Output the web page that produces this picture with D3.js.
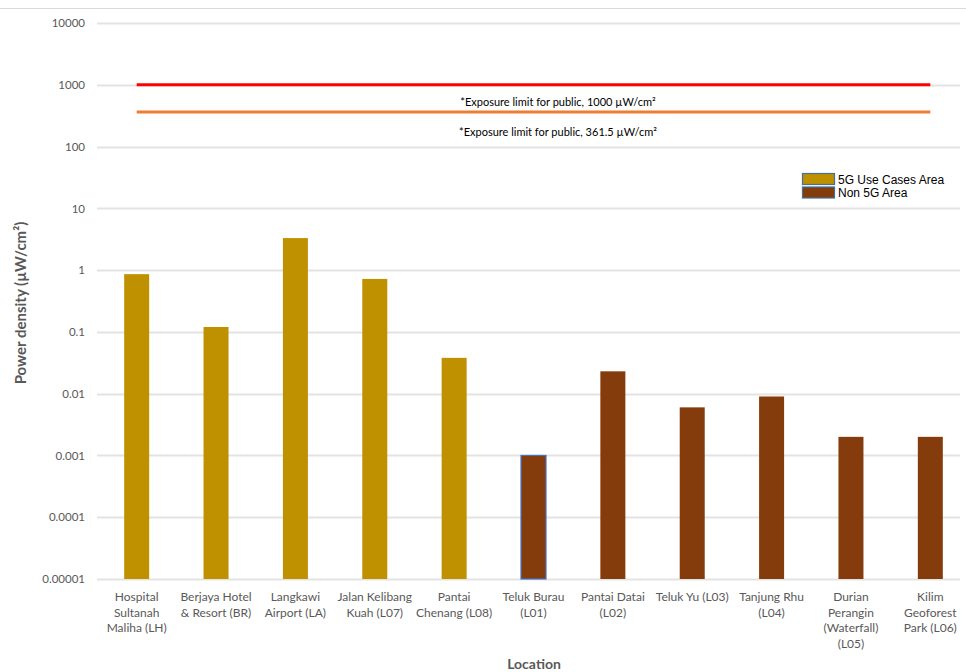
<!DOCTYPE html>
<html>
<head>
<meta charset="utf-8">
<script src="https://cdn.jsdelivr.net/npm/d3@7"></script>
<style>
  body { margin: 0; background: #fff; }
  text { font-family: Lato, "Open Sans", sans-serif; }
</style>
</head>
<body>
<script>
// chart data
const locations = [
    ["Hospital", "Sultanah", "Maliha (LH)"],
    ["Berjaya Hotel", "& Resort (BR)"],
    ["Langkawi", "Airport (LA)"],
    ["Jalan Kelibang", "Kuah (L07)"],
    ["Pantai", "Chenang (L08)"],
    ["Teluk Burau", "(L01)"],
    ["Pantai Datai", "(L02)"],
    ["Teluk Yu (L03)"],
    ["Tanjung Rhu", "(L04)"],
    ["Durian", "Perangin", "(Waterfall)", "(L05)"],
    ["Kilim", "Geoforest", "Park (L06)"]
];
const density = [0.86, 0.12, 3.3, 0.72, 0.038, 0.001, 0.023, 0.006, 0.009, 0.002, 0.002];
const areaType = ["5G", "5G", "5G", "5G", "5G", "non", "non", "non", "non", "non", "non"];
const yTicks = [0.00001, 0.0001, 0.001, 0.01, 0.1, 1, 10, 100, 1000, 10000];
const yTickLabels = ["0.00001", "0.0001", "0.001", "0.01", "0.1", "1", "10", "100", "1000", "10000"];
const limits = [1000, 361.5];
const limitLabels = ["*Exposure limit for public, 1000 \u00b5W/cm\u00b2", "*Exposure limit for public, 361.5 \u00b5W/cm\u00b2"];
const legendLabels = ["5G Use Cases Area", "Non 5G Area"];

const canvWidth = 966, canvHeight = 672;
const svg = d3.select("body").append("svg")
    .attr("width", canvWidth)
    .attr("height", canvHeight);

const margin = {top: 23, right: -4, bottom: 93, left: 97};
const width = canvWidth - margin.left - margin.right;
const height = canvHeight - margin.top - margin.bottom;

const colorScale = d3.scaleOrdinal()
    .domain(["5G", "non"])
    .range(["#BF9000", "#843C0C"]);

// top border line
svg.append("line")
    .attr("x1", 0).attr("x2", canvWidth)
    .attr("y1", 8.5).attr("y2", 8.5)
    .attr("stroke", "#d9d9d9");

const g = svg.append("g")
    .attr("transform", "translate(" + margin.left + "," + margin.top + ")");

const xScale = d3.scaleBand()
    .domain(d3.range(locations.length))
    .range([0, width])
    .paddingInner(0.685)
    .paddingOuter(0.3425);

const yScale = d3.scaleLog()
    .domain([0.00001, 10000])
    .range([height, 0]);

// gridlines
g.append("g")
    .selectAll("line")
    .data(yTicks)
    .join("line")
    .attr("x1", 0)
    .attr("x2", 863)
    .attr("y1", d => Math.round(yScale(d)) + 0.5)
    .attr("y2", d => Math.round(yScale(d)) + 0.5)
    .attr("stroke", "#e3e3e3")
    .attr("stroke-width", 2);

// y axis labels
const yAxis = d3.axisLeft(yScale)
    .tickValues(yTicks)
    .tickFormat((d, i) => yTickLabels[i])
    .tickSize(0)
    .tickPadding(12);
const yAxisG = g.append("g").call(yAxis);
yAxisG.select(".domain").remove();
yAxisG.selectAll("text")
    .attr("fill", "#595959")
    .attr("font-size", "11.5px")
    .style("font-family", "Lato, sans-serif");

// bars
g.selectAll("rect.bar")
    .data(density)
    .join("rect")
    .attr("class", "bar")
    .attr("x", (d, i) => xScale(i))
    .attr("y", d => yScale(d))
    .attr("width", xScale.bandwidth())
    .attr("height", d => height - yScale(d))
    .attr("fill", (d, i) => colorScale(areaType[i]))
    .attr("stroke", (d, i) => i === 5 ? "#4472C4" : "none")
    .attr("stroke-width", 1.2);

// x axis labels
const xLabels = g.append("g")
    .selectAll("text")
    .data(locations)
    .join("text")
    .attr("x", (d, i) => xScale(i) + xScale.bandwidth() / 2)
    .attr("y", height + 22)
    .attr("text-anchor", "middle")
    .attr("fill", "#595959")
    .attr("font-size", "12px");
xLabels.each(function (d) {
    const t = d3.select(this);
    d.forEach((line, k) => {
        t.append("tspan")
            .attr("x", t.attr("x"))
            .attr("dy", k === 0 ? 0 : 15.5)
            .text(line);
    });
});

// exposure limit lines
const xStart = xScale(0) + xScale.bandwidth() / 2;
const xEnd = xScale(locations.length - 1) + xScale.bandwidth() / 2;
const limitColors = ["#FF0000", "#ED7D31"];
g.selectAll("line.limit")
    .data(limits)
    .join("line")
    .attr("class", "limit")
    .attr("x1", xStart)
    .attr("x2", xEnd)
    .attr("y1", d => yScale(d))
    .attr("y2", d => yScale(d))
    .attr("stroke", (d, i) => limitColors[i])
    .attr("stroke-width", 3);

const labelOffsets = [21, 24];
g.selectAll("text.limit")
    .data(limits)
    .join("text")
    .attr("class", "limit")
    .attr("x", 461)
    .attr("y", (d, i) => yScale(d) + labelOffsets[i])
    .attr("text-anchor", "middle")
    .attr("font-size", "11px")
    .attr("fill", "#000")
    .text((d, i) => limitLabels[i]);

// legend
const legend = svg.append("g")
    .attr("transform", "translate(802,173)");
legendLabels.forEach((lab, i) => {
    legend.append("rect")
        .attr("x", 0.5)
        .attr("y", i * 13.5 + 0.5)
        .attr("width", 32)
        .attr("height", 11)
        .attr("fill", colorScale.range()[i])
        .attr("stroke", "#41719C")
        .attr("stroke-width", 1.2);
    legend.append("text")
        .attr("x", 36)
        .attr("y", i * 13.5 + 10.5)
        .attr("font-size", "12px")
        .attr("fill", "#000")
        .style("font-family", "\"Liberation Sans\", Arial, sans-serif")
        .text(lab);
});

// axis titles
svg.append("text")
    .attr("transform", "rotate(-90)")
    .attr("x", -303)
    .attr("y", 26)
    .attr("text-anchor", "middle")
    .attr("font-size", "15px")
    .attr("font-weight", "bold")
    .attr("fill", "#595959")
    .text("Power density (\u00b5W/cm\u00b2)");

svg.append("text")
    .attr("x", 534)
    .attr("y", 669)
    .attr("text-anchor", "middle")
    .attr("font-size", "14px")
    .attr("font-weight", "bold")
    .attr("fill", "#595959")
    .text("Location");
</script>
</body>
</html>
